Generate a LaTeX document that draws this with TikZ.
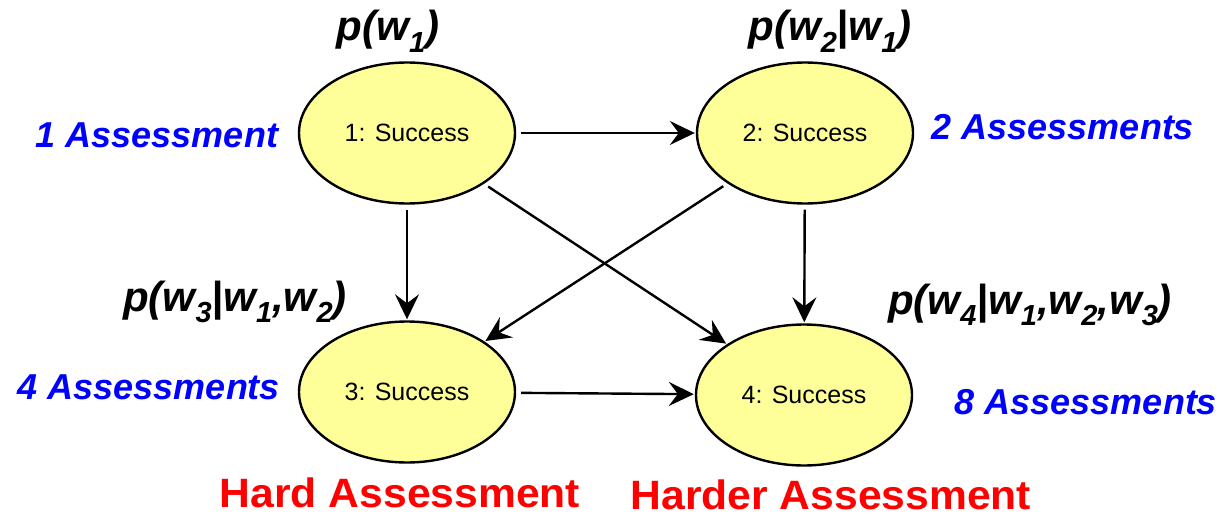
\documentclass[tikz,border=0pt]{standalone}
\usepackage{fontspec}
\setmainfont{Liberation Sans}
\newfontfamily\headfont[FakeStretch=1.04]{Liberation Sans}
\usetikzlibrary{shapes.geometric,arrows.meta}
\definecolor{nodefill}{HTML}{FFFF99}
\newcommand{\lo}[1]{\raisebox{-0.28em}{\fontsize{29}{29}\selectfont #1}}
\tikzset{
  state/.style={ellipse, draw=black, line width=2.4pt, fill=nodefill,
    minimum width=216pt, minimum height=141pt, inner sep=0pt,
    font=\fontsize{25}{25}\selectfont},
  link/.style={line width=2.4pt, -{Stealth[length=25pt,width=24pt,inset=9pt]},
    shorten <=5pt, shorten >=1pt},
  prob/.style={font=\fontsize{42}{42}\selectfont\bfseries\itshape, inner sep=0pt},
  count/.style={font=\fontsize{36}{36}\selectfont\bfseries\itshape, text=blue, inner sep=0pt},
  level/.style={font=\headfont\fontsize{41}{41}\selectfont\bfseries, text=red,
    inner sep=0pt, anchor=base}
}
\begin{document}
\begin{tikzpicture}[x=1pt,y=-1pt]
\useasboundingbox (0,0) rectangle (1223,516);

% the four outcome states
\node[state] (n1) at (407,133) {1: Success};
\node[state] (n2) at (805,133) {2: Success};
\node[state] (n3) at (407,392) {3: Success};
\node[state] (n4) at (804,395) {4: Success};

% dependencies between outcomes
\draw[link] (n1) -- (n2);
\draw[link] (n1) -- (n3);
\draw[link] (n2) -- (n4);
\draw[link] (n1) -- (n4);
\draw[link] (n2) -- (n3);
\draw[link] (n3) -- (n4);

% conditional probabilities
\node[prob] (p1) at (388,31) {p(w\lo{1})};
\node[prob] (p2) at (830,31) {p(w\lo{2}|w\lo{1})};
\node[prob] (p3) at (235,302) {p(w\lo{3}|w\lo{1},w\lo{2})};
\node[prob] (p4) at (1030,305) {p(w\lo{4}|w\lo{1},w\lo{2},w\lo{3})};

% number of assessments
\node[count] (c1) at (157,135) {1 Assessment};
\node[count] (c2) at (1063,127) {2 Assessments};
\node[count] (c3) at (149,387) {4 Assessments};
\node[count] (c4) at (1086,402) {8 Assessments};

% difficulty
\node[level] (h3) at (400,507) {Hard Assessment};
\node[level] (h4) at (831,509) {Harder Assessment};
\end{tikzpicture}
\end{document}
